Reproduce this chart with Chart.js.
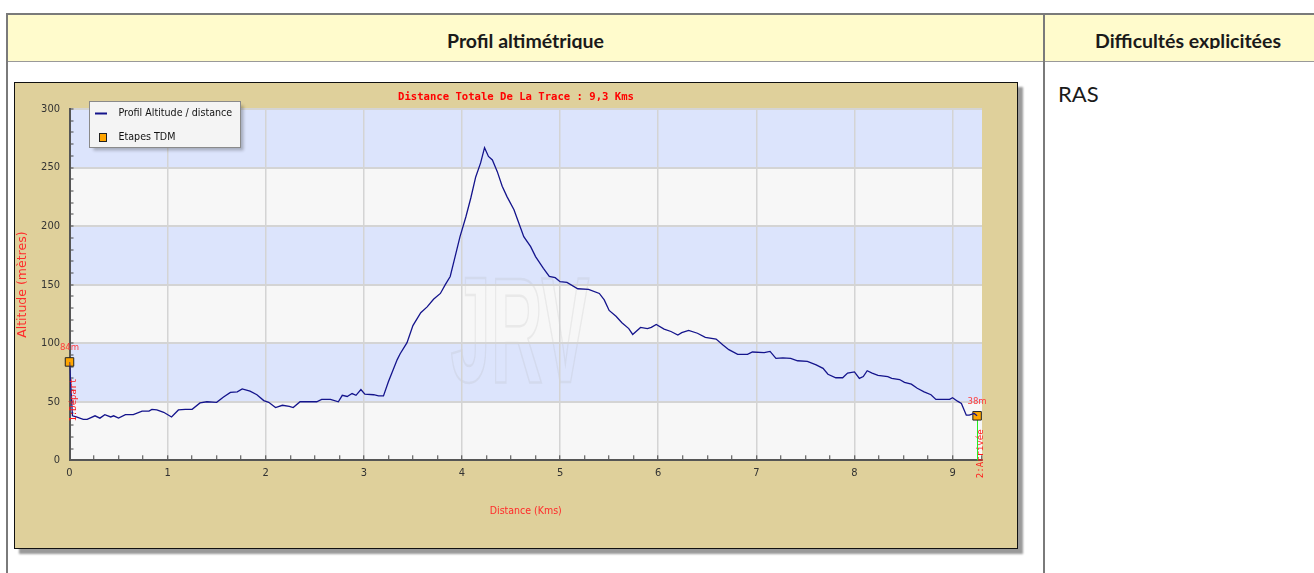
<!DOCTYPE html>
<html>
<head>
<meta charset="utf-8">
<script src="https://cdn.jsdelivr.net/npm/chart.js@4.4.1/dist/chart.umd.min.js"></script>
<style>
body { margin:0; width:1314px; height:573px; overflow:hidden; background:#fff; position:relative; font-family: Lato, sans-serif; }
.ln { position:absolute; background:#7a7a7a; }
.head { position:absolute; top:15px; height:46px; background:#fffbcc; }
.htxt { position:absolute; top:29px; height:20px; line-height:23.4px; overflow:hidden; font-weight:bold; font-size:19.5px; color:#1a1a1a; text-align:center; white-space:nowrap; }
#ras { position:absolute; left:1058px; top:80px; font-size:22px; color:#1a1a1a; }
#frame { position:absolute; left:14px; top:82px; width:1002px; height:465px; border:1px solid #111; background:#dfd09b; box-shadow:5px 5px 2px #9a9a9a; }
#frame canvas { display:block; }
</style>
</head>
<body>
<div class="head" style="left:8px;width:1035px"></div>
<div class="head" style="left:1045px;width:300px"></div>
<div class="ln" style="left:6px;top:13px;width:1340px;height:2px"></div>
<div class="ln" style="left:6px;top:61px;width:1340px;height:1px;background:#999"></div>
<div class="ln" style="left:6px;top:13px;width:2px;height:560px"></div>
<div class="ln" style="left:1043px;top:13px;width:2px;height:560px"></div>
<div class="htxt" style="left:8px;width:1035px">Profil altimétrique</div>
<div class="htxt" style="left:1045px;width:286px">Difficultés explicitées</div>
<div id="ras">RAS</div>
<div id="frame"><canvas id="profil" width="1002" height="465"></canvas></div>
<script>
// profil altimetrique (km / metres)
const distances = [0, 0.03, 0.07, 0.14, 0.18, 0.26, 0.31, 0.36, 0.42, 0.45, 0.50, 0.57, 0.65, 0.74, 0.81, 0.84, 0.89, 0.96, 1.04, 1.11,
  1.18, 1.25, 1.33, 1.40, 1.50, 1.57, 1.64, 1.71, 1.76, 1.84, 1.91, 1.98, 2.03, 2.10, 2.17, 2.24, 2.28, 2.35, 2.52, 2.57,
  2.66, 2.74, 2.78, 2.83, 2.88, 2.92, 2.97, 3.01, 3.10, 3.15, 3.20, 3.25, 3.34, 3.37, 3.44, 3.50, 3.58, 3.645, 3.71, 3.78,
  3.83, 3.88, 3.93, 3.98, 4.04, 4.09, 4.14, 4.19, 4.23, 4.27, 4.31, 4.36, 4.41, 4.46, 4.53, 4.58, 4.63, 4.70, 4.75, 4.83,
  4.89, 4.95, 5.00, 5.07, 5.18, 5.29, 5.40, 5.45, 5.50, 5.57, 5.63, 5.70, 5.74, 5.82, 5.89, 5.93, 5.98, 6.06, 6.13, 6.20,
  6.24, 6.31, 6.40, 6.48, 6.59, 6.66, 6.72, 6.81, 6.91, 6.96, 7.08, 7.14, 7.20, 7.27, 7.35, 7.42, 7.52, 7.61, 7.68, 7.73,
  7.81, 7.88, 7.93, 8.00, 8.05, 8.09, 8.13, 8.18, 8.24, 8.34, 8.38, 8.46, 8.51, 8.58, 8.64, 8.71, 8.78, 8.83, 8.97, 9.00,
  9.05, 9.09, 9.14, 9.17, 9.22, 9.25]
const altitudes = [84, 38, 37, 35, 35, 38, 36, 39, 37, 38, 36, 39, 39, 42, 42, 43.5, 43, 41, 37, 43,
  43.5, 43.5, 49, 50, 49.5, 54, 58, 58.5, 61, 59, 56, 51, 49.5, 45, 47, 46, 45, 50, 50, 52,
  52, 50, 55.5, 54.5, 57, 55.5, 60.5, 56.5, 56, 55, 55, 67, 86, 91, 100.5, 115, 126, 131, 137.5, 142.5,
  150, 157, 174, 191, 208, 224, 242, 254, 267, 259.5, 256.5, 246.5, 234, 225, 214, 202.5, 191, 182.5, 174, 164,
  157, 156, 152.5, 152, 146.5, 146, 142.5, 137, 128, 123, 117.5, 112.5, 107.5, 113.5, 112.5, 113.5, 116, 112, 110, 107,
  109, 111, 108.5, 105, 103.5, 98.5, 94.5, 90.5, 90.5, 92.5, 92, 93, 87, 87.5, 87, 85, 84.5, 81.5, 78.5, 73.5,
  70.5, 70.5, 74.5, 75.5, 70, 71.5, 76.5, 74.5, 72.5, 71.5, 70, 69, 66.5, 65, 61.5, 58.5, 56, 52, 52, 53.5,
  50.5, 48.5, 38.5, 38.5, 40, 38]

// etapes TDM
const etapeKm = [0, 9.25]
const etapeAlt = [84, 38]
const etapeNoms = ['1:Départ', '2:Arrivée']

const narrow = "'Liberation Sans Narrow', 'DejaVu Sans Condensed', 'Liberation Sans', sans-serif"

const bandes = {
  id: 'bandes',
  beforeDraw(chart) {
    const {ctx, chartArea: a, scales: {y}} = chart
    ctx.save()
    for (let v = 0; v < 300; v += 50) {
      const top = y.getPixelForValue(v + 50), bot = y.getPixelForValue(v)
      ctx.fillStyle = (v / 50) % 2 ? '#dce4fc' : '#f7f7f7'
      ctx.fillRect(a.left, top, a.right - a.left, bot - top)
    }
    // filigrane
    ctx.translate(505, 258)
    ctx.scale(0.48, 1)
    ctx.font = "bold 150px 'Liberation Sans', sans-serif"
    ctx.textAlign = 'center'
    ctx.textBaseline = 'middle'
    ctx.strokeStyle = 'rgba(170,170,170,0.18)'
    ctx.lineWidth = 2.5
    ctx.strokeText('JRV', 0, 0)
    ctx.restore()
  }
}

const etapes = {
  id: 'etapes',
  beforeDatasetsDraw(chart) {
    const {ctx, chartArea} = chart
    const pts = chart.getDatasetMeta(1).data
    const last = pts[pts.length - 1]
    ctx.save()
    ctx.strokeStyle = '#22ee22'
    ctx.lineWidth = 1
    ctx.beginPath()
    ctx.moveTo(Math.round(last.x) + 0.5, last.y)
    ctx.lineTo(Math.round(last.x) + 0.5, chartArea.bottom)
    ctx.stroke()
    ctx.restore()
  },
  afterDatasetsDraw(chart) {
    const {ctx} = chart
    const pts = chart.getDatasetMeta(1).data
    ctx.save()
    pts.forEach((pt, i) => {
      ctx.fillStyle = '#ff3b3b'
      ctx.font = '9.5px ' + narrow
      ctx.textAlign = 'center'
      ctx.textBaseline = 'middle'
      ctx.fillText(etapeAlt[i] + 'm', pt.x, pt.y - 14)
      ctx.save()
      ctx.translate(pt.x + 4, pt.y + 38)
      ctx.rotate(-Math.PI / 2)
      ctx.font = "9px 'DejaVu Sans Mono', monospace"
      ctx.fillStyle = '#ff1a1a'
      ctx.fillText(etapeNoms[i], 0, 0)
      ctx.restore()
    })
    ctx.restore()
  }
}

const legende = {
  id: 'legende',
  afterDraw(chart) {
    const {ctx} = chart
    const ds = chart.data.datasets
    ctx.save()
    ctx.shadowColor = 'rgba(0,0,0,0.25)'
    ctx.shadowOffsetX = 3
    ctx.shadowOffsetY = 3
    ctx.shadowBlur = 3
    ctx.fillStyle = '#f4f4f4'
    ctx.fillRect(74.5, 18.5, 151, 46)
    ctx.shadowColor = 'transparent'
    ctx.strokeStyle = '#8a8a8a'
    ctx.lineWidth = 1
    ctx.strokeRect(74.5, 18.5, 151, 46)
    ctx.strokeStyle = ds[0].borderColor
    ctx.lineWidth = 2
    ctx.beginPath()
    ctx.moveTo(80, 30.5)
    ctx.lineTo(92, 30.5)
    ctx.stroke()
    ctx.fillStyle = ds[1].backgroundColor
    ctx.fillRect(84.5, 50.5, 7, 8)
    ctx.strokeStyle = '#222'
    ctx.lineWidth = 1
    ctx.strokeRect(84.5, 50.5, 7, 8)
    ctx.fillStyle = '#111'
    ctx.font = '10.6px ' + narrow
    ctx.textBaseline = 'middle'
    ctx.fillText(ds[0].label, 103.5, 30.5)
    ctx.fillText(ds[1].label, 103.5, 54.5)
    ctx.restore()
  }
}

const tickFont = {family: narrow, size: 11}

new Chart(document.getElementById('profil'), {
  type: 'line',
  data: {
    datasets: [{
      label: 'Profil Altitude / distance',
      data: distances.map((d, i) => ({x: d, y: altitudes[i]})),
      borderColor: '#14148c',
      borderWidth: 1.3,
      pointRadius: 0,
      tension: 0
    }, {
      label: 'Etapes TDM',
      data: etapeKm.map((d, i) => ({x: d, y: etapeAlt[i]})),
      showLine: false,
      pointStyle: 'rect',
      pointRadius: 6,
      backgroundColor: '#ffa500',
      borderColor: '#222',
      borderWidth: 1,
      clip: false
    }]
  },
  options: {
    responsive: false,
    animation: false,
    devicePixelRatio: 1,
    layout: {padding: 0},
    plugins: {
      legend: {display: false},
      tooltip: {enabled: false},
      title: {
        display: true,
        text: 'Distance Totale De La Trace : 9,3 Kms',
        color: '#ff0000',
        font: {family: "'DejaVu Sans Mono', monospace", size: 10.6, weight: 'bold'},
        padding: {top: 8.3, bottom: 5}
      }
    },
    scales: {
      x: {
        type: 'linear',
        min: 0,
        max: 9.3,
        ticks: {stepSize: 0.25, autoSkip: false, maxRotation: 0, padding: 11.4, color: '#333', font: tickFont,
          callback: v => Number.isInteger(v) ? v : ''},
        grid: {color: c => Number.isInteger(c.tick.value) ? '#d4d4d4' : 'rgba(0,0,0,0)', lineWidth: 1.5,
          tickLength: -5, tickColor: '#444', tickWidth: 1},
        border: {color: '#555', width: 2},
        title: {display: true, text: 'Distance (Kms)', color: '#ff2a2a', font: {family: narrow, size: 10.5},
          padding: {top: 0, bottom: 30.4}},
        afterFit: s => { s.height = 87.7 }
      },
      y: {
        min: 0,
        max: 300,
        ticks: {stepSize: 10, autoSkip: false, padding: 13.5, color: '#333', font: tickFont,
          callback: v => v % 50 === 0 ? v : ''},
        grid: {color: c => c.tick.value % 50 === 0 ? '#d4d4d4' : 'rgba(0,0,0,0)', lineWidth: 2,
          tickLength: -4, tickColor: '#444', tickWidth: 1},
        border: {color: '#555', width: 2},
        title: {display: true, text: 'Altitude (mètres)', color: '#ff2a2a', font: {family: "'DejaVu Sans', sans-serif", size: 12.5},
          padding: 0},
        afterFit: s => { s.width = 54.5 }
      },
      y2: {
        position: 'right',
        display: true,
        grid: {display: false},
        ticks: {display: false},
        border: {display: false},
        afterFit: s => { s.width = 35 }
      }
    }
  },
  plugins: [bandes, etapes, legende]
})
</script>
</body>
</html>
